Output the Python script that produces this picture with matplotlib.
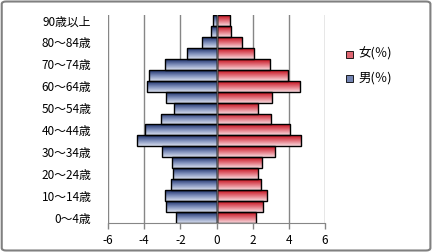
import numpy as np
import matplotlib.pyplot as plt
from matplotlib.colors import LinearSegmentedColormap
from matplotlib.patches import FancyBboxPatch, Rectangle

plt.rcParams['font.family'] = ['Noto Sans CJK JP', 'DejaVu Sans']
plt.rcParams['axes.unicode_minus'] = False

age_groups = ['0～4歳', '5～9歳', '10～14歳', '15～19歳', '20～24歳', '25～29歳',
              '30～34歳', '35～39歳', '40～44歳', '45～49歳', '50～54歳', '55～59歳',
              '60～64歳', '65～69歳', '70～74歳', '75～79歳', '80～84歳', '85～89歳',
              '90歳以上']
male = [2.23, 2.78, 2.84, 2.50, 2.39, 2.45, 3.00, 4.38, 3.96, 3.06,
        2.36, 2.80, 3.83, 3.76, 2.84, 1.62, 0.79, 0.29, 0.17]
female = [2.20, 2.59, 2.81, 2.46, 2.31, 2.54, 3.26, 4.70, 4.09, 3.04,
          2.31, 3.09, 4.59, 3.98, 2.98, 2.09, 1.43, 0.81, 0.72]
legend_labels = ['女(％)', '男(％)']
xticks = [-6, -4, -2, 0, 2, 4, 6]

blue_cmap = LinearSegmentedColormap.from_list('b', ['#d8dfee', '#7d8dba', '#1b2f68'])
red_cmap = LinearSegmentedColormap.from_list('r', ['#f8dade', '#e2707b', '#c40e1c'])

fig = plt.figure(figsize=(4.33, 2.52), dpi=100)
ax = fig.add_axes([0.2494, 0.115, 0.5012, 0.8255])

y = np.arange(len(age_groups))
grad = np.linspace(0, 1, 50).reshape(-1, 1)

def gradient_bars(values, cmap):
    bars = ax.barh(y, values, height=1.0, facecolor='none', edgecolor='black',
                   linewidth=1.0, zorder=3)
    for b in bars:
        x0, y0 = b.get_x(), b.get_y()
        w, h = b.get_width(), b.get_height()
        # top of bar dark, bottom light
        im = ax.imshow(grad, cmap=cmap, aspect='auto', zorder=2,
                       extent=[x0, x0 + w, y0, y0 + h], origin='lower',
                       interpolation='bilinear')
        im.set_clip_path(b)
    return bars

gradient_bars(-np.array(male), blue_cmap)
gradient_bars(np.array(female), red_cmap)

ax.set_xlim(-6, 6)
ax.set_ylim(-0.5, len(age_groups) - 0.5)
ax.set_xticks(xticks)
ax.set_xticklabels([str(t) for t in xticks])
ax.set_yticks(y[::2])
ax.set_yticklabels(age_groups[::2])

for t in xticks:
    ax.axvline(t, color='#868686', linewidth=1.0, zorder=1)
ax.axvline(0, color='#5a5a5a', linewidth=1.0, zorder=4)

for s in ['top', 'right', 'left']:
    ax.spines[s].set_visible(False)
ax.spines['bottom'].set_color('#868686')
ax.tick_params(axis='x', colors='#868686', length=4, width=1, labelsize=8.5,
               labelcolor='black', pad=4)
ax.tick_params(axis='y', length=0, labelsize=8.5, pad=12)

# legend (drawn manually)
leg_y = [0.785, 0.69]
leg_cmaps = [red_cmap, blue_cmap]
for ly, lab, cm in zip(leg_y, legend_labels, leg_cmaps):
    fig.patches.append(Rectangle((0.8, ly - 0.014), 0.0145, 0.025,
                                 transform=fig.transFigure,
                                 facecolor=cm(0.55), edgecolor='black',
                                 linewidth=0.6))
    fig.text(0.828, ly, lab, fontsize=9, va='center', ha='left')

fig.patches.append(FancyBboxPatch((0.004, 0.006), 0.99, 0.988,
                                  boxstyle='round,pad=0,rounding_size=0.01',
                                  transform=fig.transFigure, fill=False,
                                  edgecolor='#808080', linewidth=1.5))

fig.savefig('out.png', dpi=100)
